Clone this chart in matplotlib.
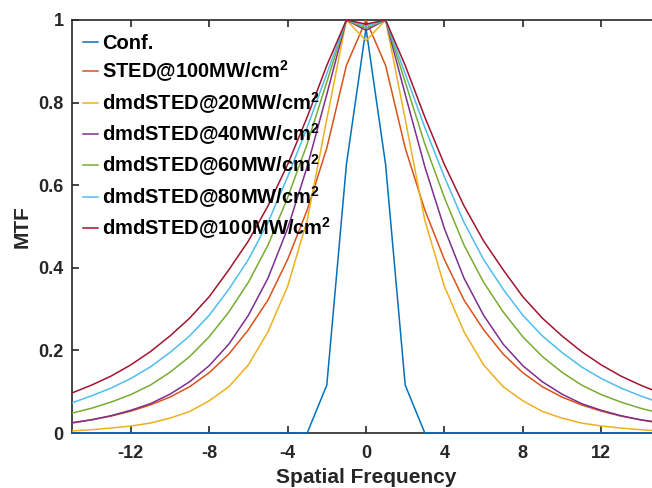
import numpy as np
import matplotlib
matplotlib.use("Agg")
import matplotlib.pyplot as plt

plt.rcParams['font.family'] = ['Liberation Sans', 'DejaVu Sans']
plt.rcParams['font.weight'] = 'bold'
plt.rcParams['mathtext.fontset'] = 'custom'
plt.rcParams['mathtext.bf'] = 'Liberation Sans:bold'
plt.rcParams['mathtext.rm'] = 'Liberation Sans:bold'
plt.rcParams['axes.unicode_minus'] = False

# Spatial frequency 0..15 (curves are symmetric around 0)
freq_half = np.arange(0, 16)

conf_half = [0.98, 0.65, 0.116, 0, 0, 0, 0, 0, 0, 0, 0, 0, 0, 0, 0, 0]
sted100_half = [1.0, 0.89, 0.69, 0.54, 0.42, 0.322, 0.25, 0.191, 0.146, 0.112,
                0.087, 0.068, 0.053, 0.041, 0.032, 0.024]
dmd20_half = [0.95, 1.0, 0.76, 0.515, 0.355, 0.245, 0.165, 0.112, 0.078, 0.052,
              0.036, 0.024, 0.017, 0.012, 0.008, 0.005]
dmd40_half = [0.975, 1.0, 0.82, 0.645, 0.495, 0.375, 0.285, 0.215, 0.163, 0.124,
              0.094, 0.071, 0.055, 0.042, 0.032, 0.025]
dmd60_half = [0.98, 1.0, 0.85, 0.70, 0.57, 0.455, 0.365, 0.293, 0.233, 0.185,
              0.147, 0.116, 0.093, 0.075, 0.06, 0.048]
dmd80_half = [0.985, 1.0, 0.87, 0.74, 0.62, 0.51, 0.42, 0.348, 0.285, 0.235,
              0.195, 0.16, 0.132, 0.109, 0.09, 0.073]
dmd100_half = [0.99, 1.0, 0.89, 0.765, 0.65, 0.55, 0.465, 0.395, 0.33, 0.278,
               0.235, 0.197, 0.165, 0.138, 0.116, 0.097]

labels = ['Conf.',
          r'STED@100MW/cm$^{\mathbf{2}}$',
          r'dmdSTED@20MW/cm$^{\mathbf{2}}$',
          r'dmdSTED@40MW/cm$^{\mathbf{2}}$',
          r'dmdSTED@60MW/cm$^{\mathbf{2}}$',
          r'dmdSTED@80MW/cm$^{\mathbf{2}}$',
          r'dmdSTED@100MW/cm$^{\mathbf{2}}$']
colors = ['#0072BD', '#D95319', '#EDB120', '#7E2F8E', '#77AC30', '#4DBEEE', '#A2142F']

def mirror(half):
    half = np.asarray(half, dtype=float)
    return np.concatenate([half[:0:-1], half])

freq = np.concatenate([-freq_half[:0:-1], freq_half])
series = [conf_half, sted100_half, dmd20_half, dmd40_half, dmd60_half, dmd80_half, dmd100_half]

fig = plt.figure(figsize=(6.52, 4.88), dpi=100)
ax = fig.add_axes([72/652, 55/488, 588/652, 413/488])

for i, (vals, lab, c) in enumerate(zip(series, labels, colors)):
    ax.plot(freq, mirror(vals), color=c, lw=1.1, label=lab, zorder=3,
            clip_on=(i != 0))

ax.set_xlim(-15, 15)
ax.set_ylim(0, 1)
ax.set_xticks([-12, -8, -4, 0, 4, 8, 12])
ax.set_yticks([0, 0.2, 0.4, 0.6, 0.8, 1])
ax.set_yticklabels(['0', '0.2', '0.4', '0.6', '0.8', '1'])

dark = '#262626'
for s in ax.spines.values():
    s.set_color(dark)
    s.set_linewidth(1.2)
ax.tick_params(direction='in', length=5, width=1.2, color=dark, labelcolor=dark,
               labelsize=13, top=True, right=True)
ax.tick_params(axis='x', pad=9)
ax.tick_params(axis='y', pad=6)
for t in ax.get_xticklabels() + ax.get_yticklabels():
    t.set_fontweight('bold')

ax.set_xlabel('Spatial Frequency', fontsize=15, fontweight='bold', color=dark, labelpad=4)
ax.set_ylabel('MTF', fontsize=15, fontweight='bold', color=dark, labelpad=5)

leg = ax.legend(loc='upper left', bbox_to_anchor=(0.012, 0.976), frameon=False,
                handlelength=0.75, handletextpad=0.2, labelspacing=0.28,
                borderaxespad=0, borderpad=0.2,
                prop={'weight': 'bold', 'size': 14.5})
for t in leg.get_texts():
    t.set_color('black')

fig.savefig('out.png', dpi=100)
